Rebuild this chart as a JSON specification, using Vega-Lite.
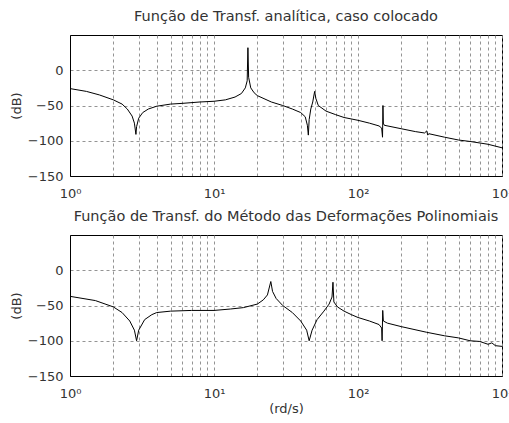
{
  "$schema": "https://vega.github.io/schema/vega-lite/v6.json",
  "padding": {"left": 9, "top": 8, "right": 0, "bottom": 0},
  "background": "white",
  "datasets": {
    "top": [
      {"f": 1, "dB": -26}, {"f": 1.3, "dB": -30}, {"f": 1.6, "dB": -35}, {"f": 2, "dB": -42},
      {"f": 2.3, "dB": -48}, {"f": 2.5, "dB": -55}, {"f": 2.7, "dB": -65}, {"f": 2.8, "dB": -75},
      {"f": 2.87, "dB": -91}, {"f": 2.9, "dB": -80}, {"f": 3.0, "dB": -68}, {"f": 3.2, "dB": -60},
      {"f": 3.5, "dB": -55}, {"f": 4, "dB": -51}, {"f": 5, "dB": -48}, {"f": 6, "dB": -47},
      {"f": 8, "dB": -45}, {"f": 10, "dB": -44}, {"f": 12, "dB": -42}, {"f": 14, "dB": -38},
      {"f": 15.5, "dB": -33}, {"f": 16.5, "dB": -25}, {"f": 17, "dB": -15}, {"f": 17.2, "dB": 32},
      {"f": 17.4, "dB": -10}, {"f": 18, "dB": -25}, {"f": 19, "dB": -32}, {"f": 20, "dB": -36},
      {"f": 25, "dB": -45}, {"f": 30, "dB": -50}, {"f": 35, "dB": -55}, {"f": 40, "dB": -60},
      {"f": 43, "dB": -66}, {"f": 44.5, "dB": -78}, {"f": 45.2, "dB": -92}, {"f": 45.8, "dB": -70},
      {"f": 47, "dB": -55}, {"f": 48.5, "dB": -45}, {"f": 50, "dB": -30}, {"f": 51, "dB": -40},
      {"f": 53, "dB": -50}, {"f": 60, "dB": -58}, {"f": 70, "dB": -63}, {"f": 80, "dB": -67},
      {"f": 100, "dB": -71}, {"f": 120, "dB": -75}, {"f": 140, "dB": -79}, {"f": 146, "dB": -82},
      {"f": 148, "dB": -95}, {"f": 149, "dB": -50}, {"f": 150, "dB": -75}, {"f": 152, "dB": -78},
      {"f": 200, "dB": -83}, {"f": 250, "dB": -87}, {"f": 290, "dB": -89}, {"f": 300, "dB": -86},
      {"f": 305, "dB": -92}, {"f": 310, "dB": -90}, {"f": 400, "dB": -95}, {"f": 500, "dB": -99},
      {"f": 600, "dB": -101}, {"f": 800, "dB": -105}, {"f": 1000, "dB": -110}
    ],
    "bottom": [
      {"f": 1, "dB": -37}, {"f": 1.5, "dB": -43}, {"f": 2, "dB": -52}, {"f": 2.3, "dB": -60},
      {"f": 2.6, "dB": -72}, {"f": 2.8, "dB": -85}, {"f": 2.9, "dB": -100}, {"f": 3.0, "dB": -85},
      {"f": 3.3, "dB": -70}, {"f": 3.7, "dB": -63}, {"f": 4, "dB": -60}, {"f": 5, "dB": -58},
      {"f": 7, "dB": -57}, {"f": 10, "dB": -57}, {"f": 13, "dB": -55}, {"f": 16, "dB": -53},
      {"f": 20, "dB": -48}, {"f": 22, "dB": -42}, {"f": 23.5, "dB": -35}, {"f": 24.8, "dB": -16},
      {"f": 25.5, "dB": -30}, {"f": 27, "dB": -40}, {"f": 30, "dB": -50}, {"f": 35, "dB": -60},
      {"f": 40, "dB": -72}, {"f": 44, "dB": -85}, {"f": 45.8, "dB": -100}, {"f": 48, "dB": -85},
      {"f": 52, "dB": -70}, {"f": 58, "dB": -58}, {"f": 63, "dB": -48}, {"f": 66, "dB": -38},
      {"f": 67, "dB": -17}, {"f": 68, "dB": -45}, {"f": 72, "dB": -52}, {"f": 80, "dB": -58},
      {"f": 90, "dB": -63}, {"f": 100, "dB": -67}, {"f": 120, "dB": -72}, {"f": 140, "dB": -77},
      {"f": 146, "dB": -82}, {"f": 147, "dB": -100}, {"f": 148.5, "dB": -57}, {"f": 150, "dB": -72},
      {"f": 160, "dB": -75}, {"f": 200, "dB": -80}, {"f": 300, "dB": -88}, {"f": 400, "dB": -93},
      {"f": 500, "dB": -96}, {"f": 600, "dB": -100}, {"f": 700, "dB": -101}, {"f": 800, "dB": -105},
      {"f": 850, "dB": -103}, {"f": 900, "dB": -107}, {"f": 1000, "dB": -108}
    ]
  },
  "config": {
    "font": "DejaVu Sans",
    "view": {"stroke": "#000", "strokeWidth": 1},
    "title": {"fontSize": 14.5, "fontWeight": "normal", "color": "#333", "offset": 11},
    "axis": {
      "labelFontSize": 13, "labelColor": "#333", "titleFontSize": 13, "titleFontWeight": "normal",
      "titleColor": "#333", "domainColor": "#000", "ticks": false, "labelPadding": 7,
      "gridColor": "#888", "gridDash": [3, 3], "gridOpacity": 0.9, "gridWidth": 1
    }
  },
  "spacing": 7,
  "vconcat": [
    {
      "title": "Função de Transf. analítica, caso colocado",
      "width": 432, "height": 141,
      "data": {"name": "top"},
      "mark": {"type": "line", "color": "#000", "strokeWidth": 1, "clip": true},
      "encoding": {
        "x": {"field": "f", "type": "quantitative",
          "scale": {"type": "log", "domain": [1, 1000], "nice": false},
          "axis": {"title": null, "labelPadding": 11, "values": [1,2,3,4,5,6,7,8,9,10,20,30,40,50,60,70,80,90,100,200,300,400,500,600,700,800,900,1000],
            "labelExpr": "datum.value==1?'10⁰':datum.value==10?'10¹':datum.value==100?'10²':datum.value==1000?'10³':''",
            "labelOverlap": false, "labelFlush": false}},
        "y": {"field": "dB", "type": "quantitative",
          "scale": {"domain": [-150, 50], "nice": false},
          "axis": {"title": "(dB)", "values": [-150, -100, -50, 0], "titlePadding": 4}}
      }
    },
    {
      "title": "Função de Transf. do Método das Deformações Polinomiais",
      "width": 432, "height": 141,
      "data": {"name": "bottom"},
      "mark": {"type": "line", "color": "#000", "strokeWidth": 1, "clip": true},
      "encoding": {
        "x": {"field": "f", "type": "quantitative",
          "scale": {"type": "log", "domain": [1, 1000], "nice": false},
          "axis": {"title": "(rd/s)", "labelPadding": 11, "titlePadding": 2, "values": [1,2,3,4,5,6,7,8,9,10,20,30,40,50,60,70,80,90,100,200,300,400,500,600,700,800,900,1000],
            "labelExpr": "datum.value==1?'10⁰':datum.value==10?'10¹':datum.value==100?'10²':datum.value==1000?'10³':''",
            "labelOverlap": false, "labelFlush": false}},
        "y": {"field": "dB", "type": "quantitative",
          "scale": {"domain": [-150, 50], "nice": false},
          "axis": {"title": "(dB)", "values": [-150, -100, -50, 0], "titlePadding": 4}}
      }
    }
  ]
}
